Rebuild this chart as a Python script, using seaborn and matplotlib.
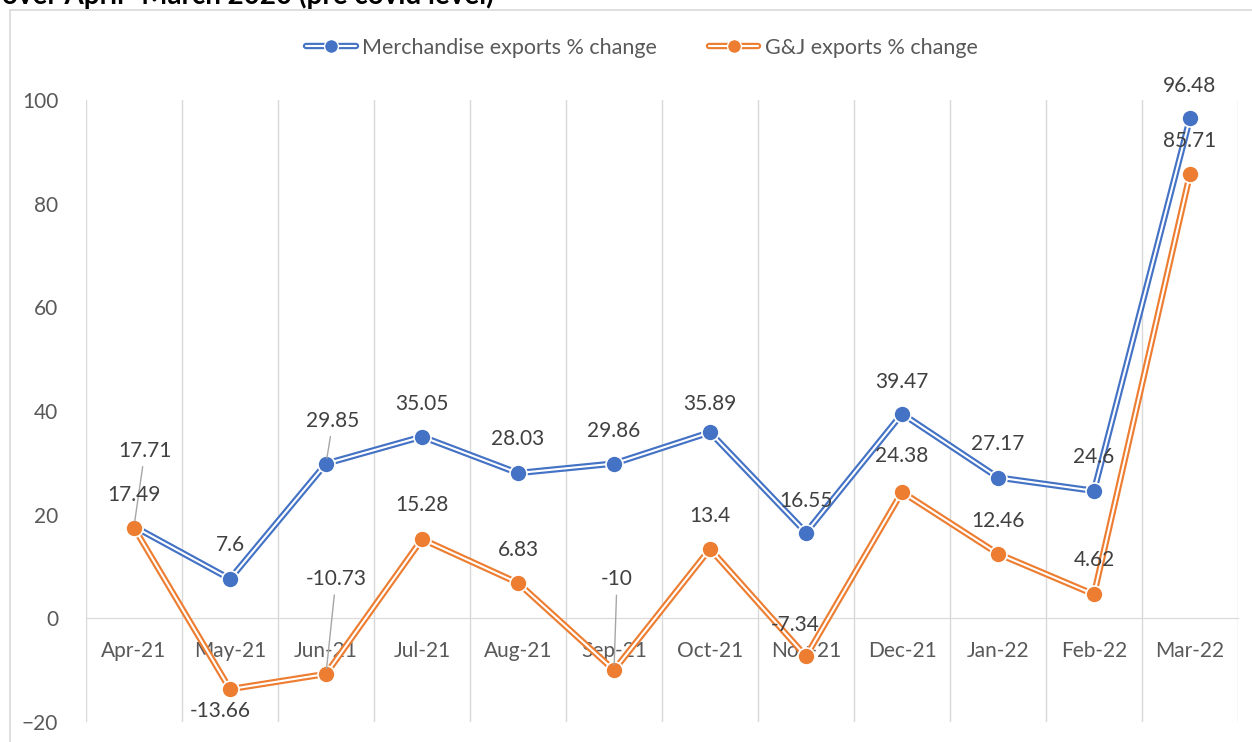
import matplotlib
matplotlib.use("Agg")
import matplotlib.pyplot as plt
from matplotlib.lines import Line2D
from matplotlib.patches import Rectangle
from matplotlib.legend_handler import HandlerTuple
import seaborn as sns
import numpy as np
import pandas as pd

# data
months = ["Apr-21", "May-21", "Jun-21", "Jul-21", "Aug-21", "Sep-21",
          "Oct-21", "Nov-21", "Dec-21", "Jan-22", "Feb-22", "Mar-22"]
merch = [17.71, 7.6, 29.85, 35.05, 28.03, 29.86, 35.89, 16.55, 39.47, 27.17, 24.6, 96.48]
gj = [17.49, -13.66, -10.73, 15.28, 6.83, -10, 13.4, -7.34, 24.38, 12.46, 4.62, 85.71]
series_names = ["Merchandise exports % change", "G&J exports % change"]
yticks = [-20, 0, 20, 40, 60, 80, 100]

blue = "#4472C4"
orange = "#ED7D31"
text_grey = "#595959"
grid_grey = "#D9D9D9"

sns.set_style("white")
plt.rcParams["font.family"] = ["Lato", "DejaVu Sans"]

fig = plt.figure(figsize=(12.52, 7.42), dpi=100)
W, H = 1252, 742
ax = fig.add_axes([86 / W, (H - 722) / H, (1238 - 86) / W, (722 - 100) / H])

x = np.arange(len(months))
df = pd.DataFrame({"x": np.concatenate([x, x]),
                   "value": merch + gj,
                   "series": [series_names[0]] * len(x) + [series_names[1]] * len(x)})

handles = []
for name, col in zip(series_names, [blue, orange]):
    sub = df[df["series"] == name]
    # double line: thick coloured line with thin white line on top
    sns.lineplot(data=sub, x="x", y="value", color=col, lw=4.6, ax=ax, zorder=3,
                 legend=False)
    sns.lineplot(data=sub, x="x", y="value", color="white", lw=1.5, ax=ax, zorder=3,
                 legend=False)
    ax.scatter(sub["x"], sub["value"], s=150, color=col, edgecolor="white",
               linewidth=1.2, zorder=4)
    handles.append((Line2D([], [], color=col, lw=4.6),
                    Line2D([], [], color="white", lw=1.5),
                    Line2D([], [], color=col, marker="o", ms=10, mec="white", lw=0)))

# label offsets in pixels (dx, dy) and whether a leader line is drawn
merch_off = [(11, 76, True), (0, 34, False), (7, 43, True), (0, 33, False),
             (0, 34, False), (0, 33, False), (0, 28, False), (0, 32, False),
             (0, 32, False), (0, 34, False), (0, 34, False), (0, 32, False)]
gj_off = [(0, 33, False), (-10, -22, False), (10, 95, True), (0, 34, False),
          (0, 33, False), (3, 91, True), (0, 33, False), (-11, 31, False),
          (0, 36, False), (0, 33, False), (0, 34, False), (0, 33, False)]

for vals, offs in [(merch, merch_off), (gj, gj_off)]:
    for xi, v, (dx, dy, lead) in zip(x, vals, offs):
        label = f"{v:g}"
        kw = {}
        if lead:
            kw["arrowprops"] = dict(arrowstyle="-", color="#A6A6A6", lw=1,
                                    shrinkA=2, shrinkB=4)
        ax.annotate(label, (xi, v), xytext=(dx, dy), textcoords="offset pixels",
                    ha="center", va="center", fontsize=15, color="#404040",
                    zorder=5, **kw)

ax.set_xlim(-0.5, len(months) - 0.5)
ax.set_ylim(-20, 100)
ax.set_xticks(x)
ax.set_xticklabels(months)
ax.set_xticks(np.arange(-0.5, len(months), 1), minor=True)
ax.set_yticks(yticks)
ax.tick_params(axis="both", which="both", length=0, labelsize=15, colors=text_grey)
ax.tick_params(axis="x", pad=16)
ax.tick_params(axis="y", pad=20)
ax.grid(False)
ax.grid(which="minor", axis="x", color=grid_grey, lw=1)
for s in ["top", "right", "left"]:
    ax.spines[s].set_visible(False)
ax.spines["bottom"].set_position(("data", 0))
ax.spines["bottom"].set_color(grid_grey)
ax.spines["bottom"].set_zorder(1)
ax.set_xlabel("")
ax.set_ylabel("")

fig.legend(handles, series_names, handler_map={tuple: HandlerTuple(ndivide=1)},
           loc="center", bbox_to_anchor=(642 / W, 1 - 48 / H), ncol=2,
           frameon=False, fontsize=15.5, labelcolor=text_grey, handlelength=2.3,
           columnspacing=2.4, handletextpad=0.3)

# chart border and the cut-off title above it
fig.patches.append(Rectangle((9.5 / W, -0.1), 1.2, 1 - 10 / H + 0.1,
                             transform=fig.transFigure, fill=False,
                             edgecolor=grid_grey, lw=1.2))
fig.text(2 / W, 1 - 4 / H, "over April- March 2020 (pre covid level)",
         fontsize=20, fontweight="bold", color="black", va="baseline", ha="left")

fig.savefig("out.png", dpi=100)
